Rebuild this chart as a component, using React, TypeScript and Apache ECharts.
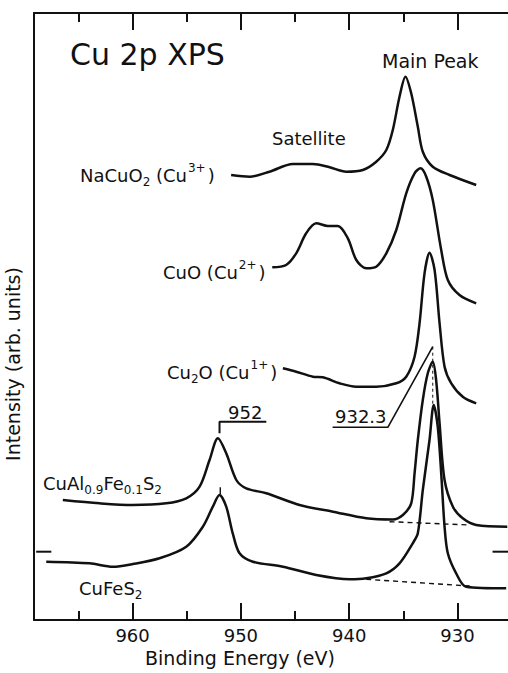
import React, { useEffect, useRef } from "react";
import * as echarts from "echarts";

// Binding energy (eV), intensity (arb. units, 0 = x axis)
const naCuO2: [number, number][] = [
  [950.9, 445], [949.2, 443.3], [947.35, 448.3], [945.2, 456], [943.35, 456], [941.8, 452.7],
  [940.27, 448.3], [938.74, 450], [937.5, 458.3], [936.57, 470], [935.97, 490], [935.35, 523.3],
  [934.8, 543.3], [934.27, 526.7], [933.66, 493.3], [933.2, 468.3], [932.28, 453.3], [930.73, 445],
  [928.27, 435],
];
const cuO: [number, number][] = [
  [947.1, 352.7], [945.82, 355], [944.89, 366.7], [943.97, 386.7], [943.04, 396.7], [941.97, 394],
  [941.04, 394], [940.12, 381.7], [939.34, 360], [938.42, 351.7], [937.5, 353.3], [936.57, 366.7],
  [935.65, 390], [934.73, 426.7], [933.96, 446.7], [933.41, 451.7], [932.88, 443.3], [932.28, 420],
  [931.5, 370], [930.89, 340], [929.81, 325], [928.27, 316.7],
];
const cu2O: [number, number][] = [
  [946.12, 251.7], [944.89, 248.3], [943.36, 243.3], [942.43, 242.7], [940.89, 236.7], [939.35, 233.3],
  [937.5, 233.3], [935.65, 236.7], [934.73, 243.3], [933.96, 263.3], [933.5, 296.7], [933.04, 346.7],
  [932.58, 367.3], [932.11, 350], [931.65, 296.7], [931.19, 253.3], [930.57, 236.7], [929.51, 223.3],
  [928.27, 216.7],
];
const cuAlFeS2: [number, number][] = [
  [966.44, 120], [963.05, 116.7], [959.97, 115], [956.89, 116.7], [955.04, 121.7], [953.81, 133.3],
  [952.89, 160], [952.12, 181.7], [951.35, 166.7], [950.42, 140], [949.5, 131.7], [947.65, 126.7],
  [944.58, 115], [941.51, 108.3], [938.42, 101.7], [935.97, 100.5], [935.04, 105], [934.27, 116.7],
  [933.96, 146.7], [933.66, 180], [933.2, 220], [932.74, 246.7], [932.28, 258.3], [931.97, 240],
  [931.65, 196.7], [931.19, 140], [930.42, 113.3], [929.51, 101.7], [928.27, 95], [925.4, 93.3],
];
const cuFeS2: [number, number][] = [
  [967.97, 58.3], [963.97, 56.7], [961.82, 53.3], [959.97, 56], [957.51, 61.7], [955.04, 73.3],
  [953.51, 93.3], [952.59, 113.3], [951.97, 125], [951.35, 113.3], [950.75, 86.7], [950.12, 66.7],
  [948.89, 58.3], [946.12, 53.3], [943.04, 45], [939.96, 40.7], [938.42, 41.7], [936.57, 46.7],
  [935.35, 56.7], [934.13, 76.7], [933.66, 86.7], [933.2, 130], [932.58, 180], [932.19, 215],
  [931.82, 193.3], [931.5, 146.7], [931.19, 93.3], [930.89, 66.7], [930.12, 46.7], [929.2, 33.3],
  [925.5, 31.7],
];
const cuAlBaseline: [number, number][] = [[936.27, 98.3], [928.9, 95]];
const cuFeS2Baseline: [number, number][] = [[938.43, 40.7], [928.88, 34]];
const zeroMarkLeft: [number, number][] = [[968.9, 68.3], [967.5, 68.3]];
const zeroMarkRight: [number, number][] = [[926.76, 68.3], [925.2, 68.3]];
const leader9323: [number, number][] = [[941.53, 192.7], [936.43, 192.7], [932.28, 273.3]];
const drop9323: [number, number][] = [[932.28, 273.3], [932.28, 215]];
const bracket952: [number, number][] = [[947.65, 198.3], [951.97, 198.3], [951.97, 186.7]];
const tick952: [number, number][] = [[951.9, 132.7], [951.9, 125.7]];
const majorTicks = [930, 940, 950, 960];
const minorTicks = [935, 945, 955, 965];

const xMin = 925;
const xMax = 969.1;
const xInterval = 5;
const yMax = 607;

const FAM = "'DejaVu Sans', 'Liberation Sans', sans-serif";
const INK = "#111";

export default function App() {
  const ref = useRef<HTMLDivElement>(null);
  useEffect(() => {
    document.body.style.margin = "0";
    const chart = echarts.init(ref.current!, undefined, { renderer: "svg" });
    const curve = (data: [number, number][], width = 2.5) => ({
      type: "line",
      data,
      showSymbol: false,
      smooth: 0.3,
      lineStyle: { color: INK, width },
      silent: true,
    });
    const straight = (data: [number, number][], type: any = "solid", width = 1.6) => ({
      type: "line",
      data,
      showSymbol: false,
      lineStyle: { color: INK, width, type },
      silent: true,
    });
    const richBase = {
      a: { font: `18px ${FAM}`, fill: INK, lineHeight: 26 },
      s: { font: `12px ${FAM}`, fill: INK, lineHeight: 12, verticalAlign: "bottom" },
      p: { font: `12px ${FAM}`, fill: INK, lineHeight: 12, verticalAlign: "top", padding: [0, 2, 0, 1] },
    };
    const txt = (x: number, y: number, text: string, fontSize = 18, rich = false) => ({
      type: "text",
      x,
      y,
      silent: true,
      style: rich
        ? { text, rich: richBase, align: "left", verticalAlign: "middle", fill: INK }
        : { text, fontSize, fontFamily: FAM, fill: INK, align: "left", verticalAlign: "middle" },
    });
    const base = {
      type: "value",
      min: xMin,
      max: xMax,
      interval: xInterval,
      inverse: true,
      splitLine: { show: false },
    };
    const majorAxis = (position: string, labels: boolean) => ({
      ...base,
      position,
      axisLine: { show: true, onZero: false, lineStyle: { color: INK, width: 2 } },
      axisTick: { show: true, inside: true, length: 17, customValues: majorTicks, lineStyle: { color: INK, width: 2 } },
      axisLabel: labels
        ? { show: true, margin: 6, fontSize: 18, fontFamily: FAM, color: INK, customValues: majorTicks }
        : { show: false },
    });
    const minorAxis = (position: string) => ({
      ...base,
      position,
      axisLine: { show: false, onZero: false },
      axisTick: { show: true, inside: true, length: 9, customValues: minorTicks, lineStyle: { color: INK, width: 2 } },
      axisLabel: { show: false },
    });
    chart.setOption({
      animation: false,
      grid: {
        left: 34,
        top: 13,
        bottom: 53,
        width: (xMax - xMin) * 10.83,
        containLabel: false,
        outerBoundsMode: "none",
      },
      xAxis: [majorAxis("bottom", true), majorAxis("top", false), minorAxis("bottom"), minorAxis("top")],
      yAxis: {
        type: "value",
        min: 0,
        max: yMax,
        position: "left",
        splitLine: { show: false },
        axisTick: { show: false },
        axisLabel: { show: false },
        axisLine: { show: true, onZero: false, lineStyle: { color: INK, width: 2 } },
      },
      series: [
        curve(naCuO2),
        curve(cuO),
        curve(cu2O),
        curve(cuAlFeS2),
        curve(cuFeS2),
        straight(cuAlBaseline, [5, 4], 1.4),
        straight(cuFeS2Baseline, [5, 4], 1.4),
        straight(zeroMarkLeft, "solid", 2),
        straight(zeroMarkRight, "solid", 2),
        straight(leader9323, "solid", 1.6),
        straight(drop9323, [3, 3], 1),
        straight(bracket952, "solid", 2),
        straight(tick952, "solid", 1.4),
      ],
      graphic: [
        txt(70, 54, "Cu 2p XPS", 30),
        txt(382, 61, "Main Peak", 19),
        txt(272, 138, "Satellite", 18),
        txt(80, 175, "{a|NaCuO}{s|2}{a| (Cu}{p|3+}{a|)}", 18, true),
        txt(163, 272, "{a|CuO (Cu}{p|2+}{a|)}", 18, true),
        txt(167, 372, "{a|Cu}{s|2}{a|O (Cu}{p|1+}{a|)}", 18, true),
        txt(228, 412, "952", 18),
        txt(335, 416, "932.3", 18),
        txt(43, 483, "{a|CuAl}{s|0.9}{a|Fe}{s|0.1}{a|S}{s|2}", 18, true),
        txt(79, 588, "{a|CuFeS}{s|2}", 18, true),
        {
          type: "text",
          x: 240,
          y: 658,
          silent: true,
          style: { text: "Binding Energy (eV)", fontSize: 19, fontFamily: FAM, fill: INK, align: "center", verticalAlign: "middle" },
        },
        {
          type: "text",
          x: 13,
          y: 364,
          rotation: Math.PI / 2,
          silent: true,
          style: { text: "Intensity (arb. units)", fontSize: 19, fontFamily: FAM, fill: INK, align: "center", verticalAlign: "middle" },
        },
      ],
    });
    return () => chart.dispose();
  }, []);
  return <div ref={ref} style={{ width: 508, height: 673, overflow: "hidden" }} />;
}
